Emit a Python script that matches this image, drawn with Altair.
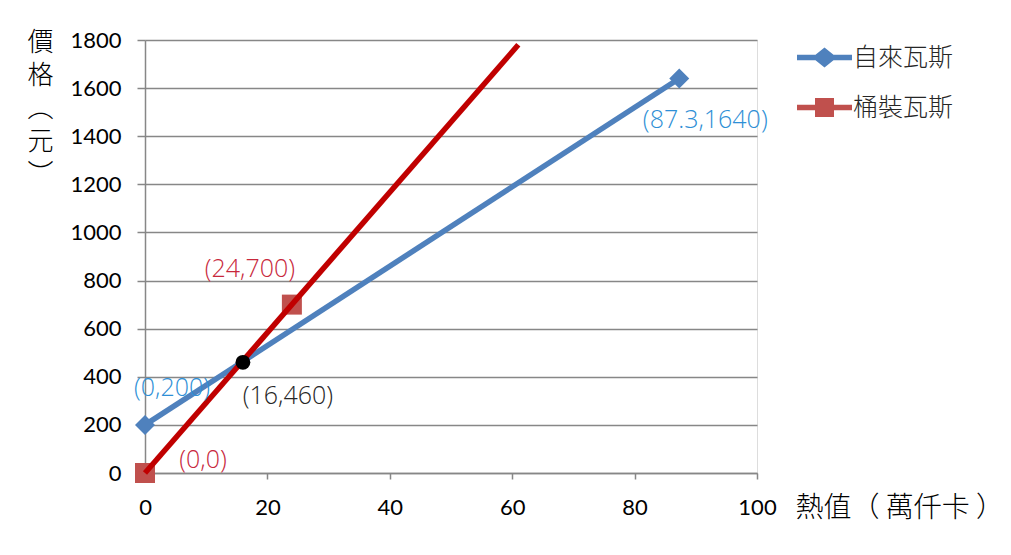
import altair as alt
import pandas as pd

# ---- data ----
series_names = ["自來瓦斯", "桶裝瓦斯"]
gas_x = [0, 87.3]
gas_y = [200, 1640]
lpg_x = [0, 24]
lpg_y = [0, 700]
lpg_line_x = [0, 61]
lpg_line_y = [0, 1780]
cross_x = [16]
cross_y = [460]
y_ticks = [0, 200, 400, 600, 800, 1000, 1200, 1400, 1600, 1800]
x_ticks = [0, 20, 40, 60, 80, 100]
y_title = ["價", "格", "︵", "元", "︶"]
x_title = "熱值（ 萬仟卡 ）"

BLUE = "#4F81BD"
RED_M = "#C0504D"
RED_L = "#C00000"
GRID = "#878787"
LBL_BLUE = "#2E8FD6"
LBL_RED = "#C8283C"
CJK = "Noto Sans CJK TC"

gas = pd.DataFrame({"x": gas_x, "y": gas_y})
lpg = pd.DataFrame({"x": lpg_x, "y": lpg_y})
lpg_line = pd.DataFrame({"x": lpg_line_x, "y": lpg_line_y})
cross = pd.DataFrame({"x": cross_x, "y": cross_y})

xs = alt.Scale(domain=[0, 100], nice=False)
ys = alt.Scale(domain=[0, 1800], nice=False)

X = alt.X("x:Q", scale=xs, axis=alt.Axis(
    values=x_ticks, format="d", grid=False, domainColor=GRID, domainWidth=1.5,
    tickColor=GRID, tickSize=6, tickWidth=1.5, labelFont="Lato", labelFontSize=22,
    labelColor="black", labelPadding=18, labelFlush=False, labelOverlap=False,
    title=x_title, titleFont=CJK,
    titleFontSize=28, titleFontWeight=300, titleColor="black", titleX=650,
    titleY=35, titleAlign="left", titleBaseline="middle", titleAngle=0))
Y = alt.Y("y:Q", scale=ys, axis=alt.Axis(
    values=y_ticks, format="d", grid=True, gridColor=GRID, gridWidth=1.5, domainColor=GRID,
    domainWidth=1.5, tickColor=GRID, tickSize=8, tickWidth=1.5, labelFont="Lato",
    labelFontSize=22, labelColor="black", labelPadding=16, labelFlush=False,
    labelOverlap=False, title=y_title,
    titleFont=CJK, titleFontSize=26, titleFontWeight=300,
    titleColor="black", titleAngle=0, titleX=-105, titleY=-11, titleAlign="center",
    titleBaseline="top", titleLineHeight=33))

blue_line = alt.Chart(gas).mark_line(color=BLUE, strokeWidth=5.5).encode(x=X, y=Y)
blue_pts = alt.Chart(gas).mark_point(shape="diamond", filled=True, color=BLUE,
                                     size=400, opacity=1).encode(x="x:Q", y="y:Q")
red_pts = alt.Chart(lpg).mark_point(shape="square", filled=True, color=RED_M,
                                    size=400, opacity=1).encode(x="x:Q", y="y:Q")
red_line = alt.Chart(lpg_line).mark_line(color=RED_L, strokeWidth=5.5).encode(x="x:Q", y="y:Q")
cross_pt = alt.Chart(cross).mark_point(shape="circle", filled=True, color="black",
                                       size=220, opacity=1).encode(x="x:Q", y="y:Q")

def label(df, idx, text, color, dx, dy):
    return alt.Chart(df.iloc[[idx]]).mark_text(
        text=text, color=color, dx=dx, dy=dy, font="Open Sans", fontSize=25,
        fontWeight=300, align="center", baseline="middle").encode(x="x:Q", y="y:Q")

lbls = [
    label(gas, 0, "(0,200)", LBL_BLUE, 27, -37),
    label(gas, 1, "(87.3,1640)", LBL_BLUE, 26, 42),
    label(lpg, 0, "(0,0)", LBL_RED, 58, -13),
    label(lpg, 1, "(24,700)", LBL_RED, -42, -36),
    label(cross, 0, "(16,460)", "#262626", 45, 34),
]

legend_paths = [
    "M-2.75,-0.27H-0.9L0,-1.0L0.9,-0.27H2.75V0.27H0.9L0,1.0L-0.9,0.27H-2.75Z",
    "M-2.75,-0.27H-0.95V-0.95H0.95V-0.27H2.75V0.27H0.95V0.95H-0.95V0.27H-2.75Z",
]
legend_layer = alt.Chart(alt.Data(values=[])).mark_point(filled=True, opacity=1).encode(
    color=alt.Color("s:N", scale=alt.Scale(domain=series_names, range=[BLUE, RED_M]),
                    legend=alt.Legend(orient="none", legendX=667, legendY=5, title=None,
                                      labelFont=CJK, labelFontSize=25, labelFontWeight=300,
                                      labelColor="#262626", labelOffset=16,
                                      symbolSize=400, symbolStrokeWidth=0,
                                      rowPadding=24, padding=0, symbolOpacity=1)),
    shape=alt.Shape("s:N", scale=alt.Scale(domain=series_names, range=legend_paths),
                    legend=None),
)

chart = alt.layer(blue_line, blue_pts, red_pts, red_line, cross_pt, *lbls, legend_layer).properties(
    width=612, height=433,
    autosize=alt.AutoSizeParams(type="none"),
    padding={"left": 137, "top": 32, "right": 246, "bottom": 74},
).configure_view(stroke=None).configure(background="white")

chart.save("out.html", embed_options={"renderer": "svg", "actions": False})
